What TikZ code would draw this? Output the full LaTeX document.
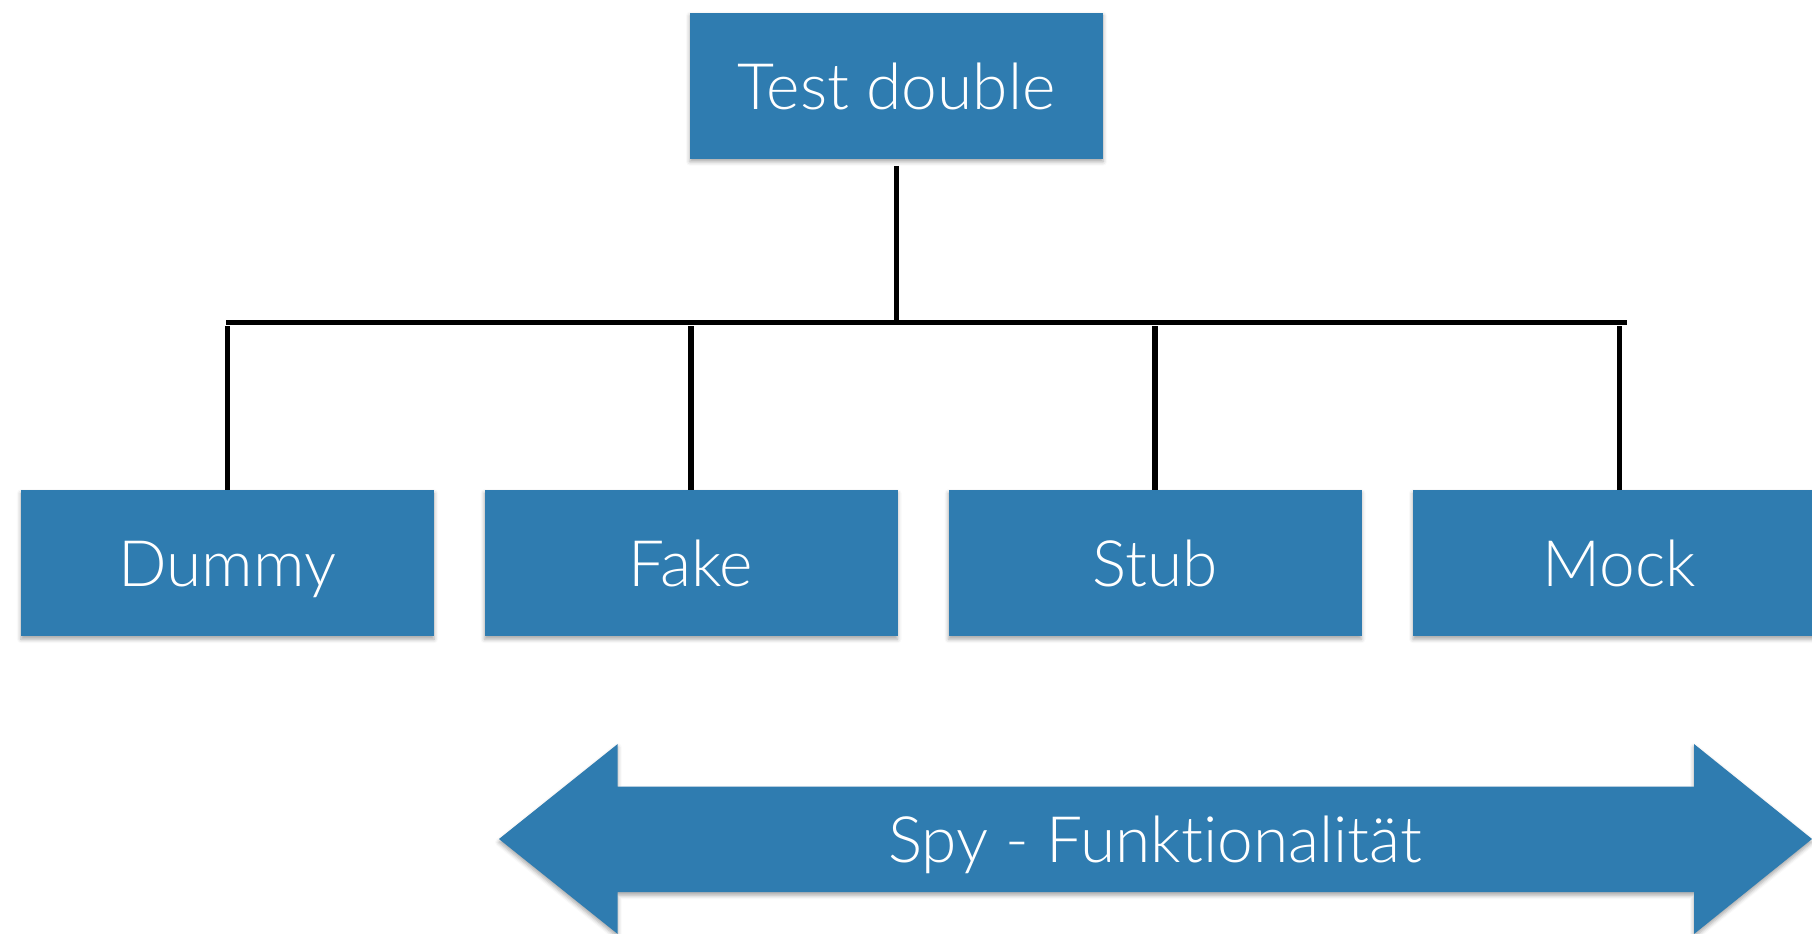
\documentclass[tikz,border=0pt]{standalone}
\usepackage{fontspec}
\setmainfont{Lato Light}[Ligatures=NoCommon]
\usetikzlibrary{shadows.blur}
\definecolor{tileblue}{RGB}{47,124,176}
\tikzset{
  softshadow/.style={blur shadow={shadow xshift=0pt, shadow yshift=-1.6pt,
    shadow blur radius=2pt, shadow opacity=35}},
  tile/.style={fill=tileblue, draw=none, text=white, minimum width=206.5pt,
    minimum height=73pt, inner sep=0pt, text height=23.5pt, text depth=0pt,
    font=\fontsize{32}{36}\selectfont, softshadow},
  wire/.style={line width=2.6pt, black},
  label/.style={text=white, font=\fontsize{32}{36}\selectfont, inner sep=0pt,
    text height=23.5pt, text depth=0pt}
}
\begin{document}
\begin{tikzpicture}[x=0.5pt, y=-0.5pt]
  \useasboundingbox (0,0) rectangle (1812,933);
  \clip (0,0) rectangle (1812,933);

  % root and its four kinds
  \node[tile] (td)    at (896.5,85.5) {Test double};
  \node[tile] (dummy) at (227.5,563)  {Dummy};
  \node[tile] (fake)  at (691,563)    {Fake};
  \node[tile] (stub)  at (1155,563)   {Stub};
  \node[tile] (mock)  at (1619.5,563) {Mock};

  % tree connectors
  \coordinate (busL) at (226,322.7);
  \coordinate (busR) at (1627,322.7);
  \draw[wire] (busL) -- (busR);
  \draw[wire, shorten <=3.5pt] (td.south) -- (td.south |- busL);
  \foreach \n in {dummy,fake,stub,mock}
    \draw[wire, shorten >=1.5pt] (\n.north) -- (\n.north |- busL);

  % double-headed arrow
  \fill[tileblue, softshadow]
    (499,839) -- (617.7,744) -- (617.7,786.7) -- (1694,786.7) -- (1694,744)
    -- (1812,839) -- (1694,934) -- (1694,892) -- (617.7,892) -- (617.7,934) -- cycle;
  \node[label] (spy) at (1155,839) {Spy - Funktionalität};
\end{tikzpicture}
\end{document}
